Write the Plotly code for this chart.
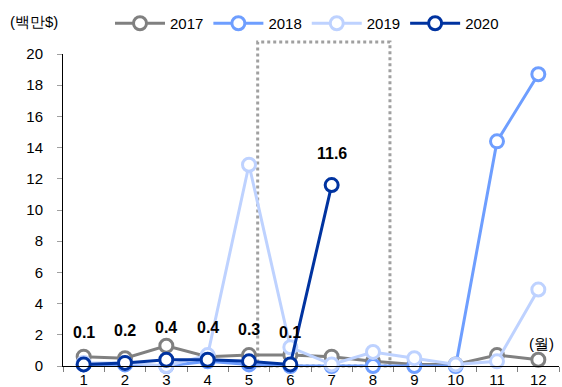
import plotly.graph_objects as go

months = [str(m) for m in range(1, 13)]
v2017 = [0.6, 0.5, 1.3, 0.6, 0.7, 0.7, 0.6, 0.3, 0.1, 0.1, 0.7, 0.4]
v2018 = [0.1, 0.1, 0.0, 0.3, 0.1, 0.0, 0.0, 0.0, 0.0, 0.0, 14.4, 18.7]
v2019 = [0.2, 0.2, 0.0, 0.7, 12.9, 1.2, 0.1, 0.9, 0.5, 0.1, 0.3, 4.9]
m2020 = ["1", "2", "3", "4", "5", "6", "7"]
v2020 = [0.1, 0.2, 0.4, 0.4, 0.3, 0.1, 11.6]
labels2020 = ["0.1", "0.2", "0.4", "0.4", "0.3", "0.1", "11.6"]

FONT = "Liberation Sans Narrow, Arial Narrow, Liberation Sans, Arial"

series = [
    ("2017", months, v2017, "#808080"),
    ("2018", months, v2018, "#6E9EFF"),
    ("2019", months, v2019, "#BED2FF"),
    ("2020", m2020, v2020, "#0033A0"),
]

fig = go.Figure()
for name, xs, ys, col in series:
    fig.add_trace(go.Scatter(
        x=xs, y=ys, name=name, mode="lines+markers",
        line=dict(color=col, width=3),
        marker=dict(symbol="circle", size=13, color="white",
                    line=dict(color=col, width=3)),
        cliponaxis=False,
    ))

for i, (v, t) in enumerate(zip(v2020, labels2020)):
    fig.add_annotation(x=i, y=v, text="<b>" + t + "</b>", showarrow=False,
                       yshift=32, font=dict(family=FONT, size=16, color="black"))

# dotted highlight box (between months 5 and 8)
fig.add_shape(type="rect", xref="x", yref="paper",
              x0=4.21, x1=7.41, y0=0, y1=(366 - 42) / 312,
              line=dict(color="#A0A0A0", width=3, dash="dot"),
              fillcolor="rgba(0,0,0,0)", layer="below")

fig.add_annotation(xref="paper", yref="paper", x=-0.11, y=(366 - 22) / 312,
                   text="(백만$)", showarrow=False, xanchor="left", yanchor="middle",
                   font=dict(family=FONT, size=15, color="black"))
fig.add_annotation(xref="paper", yref="paper", x=(556 - 63) / 496, y=(366 - 343) / 312,
                   text="(월)", showarrow=False, xanchor="right", yanchor="middle",
                   font=dict(family=FONT, size=15, color="black"))

fig.update_layout(
    width=562, height=387,
    margin=dict(l=63, r=3, t=54, b=21),
    paper_bgcolor="white", plot_bgcolor="white",
    font=dict(family=FONT, size=15, color="black"),
    showlegend=True,
    legend=dict(orientation="h", x=(110 - 63) / 496, y=(366 - 7) / 312,
                xanchor="left", yanchor="top", font=dict(family=FONT, size=15),
                itemwidth=50, tracegroupgap=0, bgcolor="rgba(0,0,0,0)"),
    xaxis=dict(type="category", range=[-0.5, 11.5], showgrid=False,
               showline=True, linecolor="black", linewidth=1, automargin=False,
               ticks="outside", tickson="boundaries", ticklen=5, tickcolor="#808080",
               tickfont=dict(family=FONT, size=15)),
    yaxis=dict(range=[0, 20], dtick=2, showgrid=False, zeroline=False,
               showline=True, linecolor="black", linewidth=1, automargin=False,
               ticks="outside", ticklen=5, tickcolor="#A0A0A0", ticklabelstandoff=11,
               tickfont=dict(family=FONT, size=15)),
)

fig.write_html("out.html", config={"displayModeBar": False},
               post_script="document.body.style.margin='0';")
